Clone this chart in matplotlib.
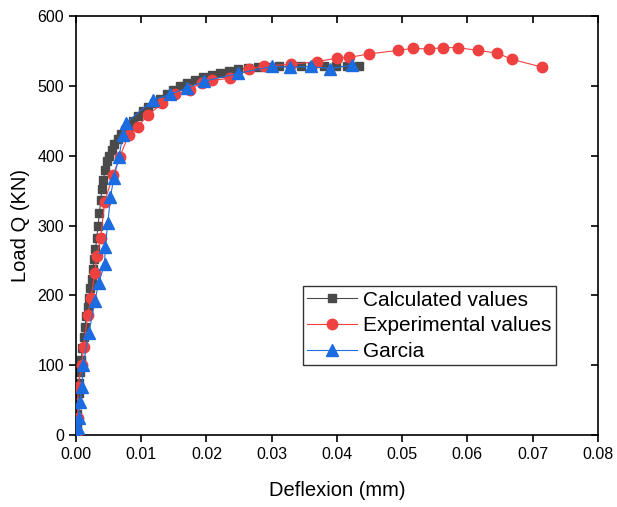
import numpy as np
import matplotlib
matplotlib.use("Agg")
import matplotlib.pyplot as plt

plt.rcParams['font.family'] = ['Liberation Sans', 'DejaVu Sans']

# Calculated values (dense curve)
calc_x = [0, 0.0001, 0.0002, 0.0003, 0.0004, 0.0005, 0.0006, 0.0008, 0.001, 0.0012,
          0.0014, 0.0016, 0.0018, 0.002, 0.0022, 0.0024, 0.0026, 0.0028, 0.003, 0.0032,
          0.0034, 0.0036, 0.0038, 0.004, 0.0042, 0.0045, 0.0048, 0.0051, 0.0055, 0.0059,
          0.0064, 0.0069, 0.0075, 0.0081, 0.0088, 0.0095, 0.0103, 0.0111, 0.012, 0.0129,
          0.0139, 0.0149, 0.016, 0.0171, 0.0183, 0.0195, 0.0208, 0.0221, 0.0235, 0.0249,
          0.0264, 0.0279, 0.0295, 0.0311, 0.0328, 0.0345, 0.0362, 0.038, 0.0398, 0.0416,
          0.0434]
calc_y = [0, 15, 30, 45, 60, 75, 90, 108, 124, 140,
          155, 170, 184, 196, 210, 224, 238, 252, 266, 282,
          300, 318, 336, 352, 366, 380, 392, 400, 409, 417,
          424, 431, 437, 443, 450, 457, 464, 470, 476, 482,
          488, 494, 500, 505, 509, 513, 516, 519, 522, 524,
          526, 527, 527, 528, 528, 528, 528, 528, 528, 528,
          528]

# Experimental values
exp_x = [0, 0.0003, 0.0003, 0.0009, 0.0012, 0.0018, 0.0023, 0.0029, 0.0032, 0.0038,
         0.0044, 0.0057, 0.0067, 0.0081, 0.0095, 0.011, 0.0132, 0.0152, 0.0175, 0.0193,
         0.0208, 0.0236, 0.0266, 0.0289, 0.033, 0.037, 0.04, 0.0419, 0.0449, 0.0493,
         0.0516, 0.0541, 0.0562, 0.0585, 0.0617, 0.0646, 0.0669, 0.0715]
exp_y = [0, 24, 69, 100, 126, 172, 196, 232, 256, 282,
         334, 372, 398, 430, 442, 458, 475, 488, 495, 505,
         508, 511, 524, 529, 531, 535, 540, 541, 546, 551,
         554, 553, 555, 555, 551, 547, 538, 527]

# Garcia
gar_x = [0, 0.0003, 0.0004, 0.0006, 0.0009, 0.0011, 0.002, 0.0029, 0.0035, 0.0044,
         0.0045, 0.0049, 0.0053, 0.0058, 0.0066, 0.0072, 0.0077, 0.0118, 0.0144, 0.017,
         0.0197, 0.0248, 0.03, 0.0328, 0.0361, 0.0389, 0.0423]
gar_y = [0, 10, 24, 47, 69, 100, 146, 192, 218, 245,
         270, 304, 341, 368, 398, 430, 447, 480, 488, 497,
         507, 518, 528, 527, 528, 525, 530]

fig = plt.figure(figsize=(6.17, 5.07), dpi=100)
ax = fig.add_axes([0.123, 0.142, 0.846, 0.826])

ax.plot(calc_x, calc_y, color='#4a4a4a', lw=0.8, marker='s', ms=6,
        mfc='#4a4a4a', mec='#4a4a4a', label='Calculated values', zorder=2)
ax.plot(exp_x, exp_y, color='#f04141', lw=0.8, marker='o', ms=7.5,
        mfc='#f04141', mec='#f04141', label='Experimental values', zorder=3)
ax.plot(gar_x, gar_y, color='#1f6fe0', lw=0.8, marker='^', ms=8,
        mfc='#1a6ce0', mec='#1a6ce0', label='Garcia', zorder=4)

ax.set_xlim(0, 0.08)
ax.set_ylim(0, 600)
ax.set_xticks(np.arange(0, 0.081, 0.01))
ax.set_yticks(np.arange(0, 601, 100))
ax.set_xticklabels(['%.2f' % v for v in np.arange(0, 0.081, 0.01)])

ax.tick_params(axis='both', which='major', direction='out', length=5, width=1.2,
               labelsize=11.5)
ax.tick_params(top=True, right=True)
for t in ax.xaxis.get_major_ticks():
    t.tick2line.set_marker(3)
for t in ax.yaxis.get_major_ticks():
    t.tick2line.set_marker(0)
for s in ax.spines.values():
    s.set_linewidth(1.2)

ax.set_xlabel('Deflexion (mm)', fontsize=14.5, labelpad=14)
ax.set_ylabel('Load Q (KN)', fontsize=14.5, labelpad=5)

leg = ax.legend(loc='lower left', bbox_to_anchor=(0.435, 0.167), fontsize=15,
                frameon=True, fancybox=False, edgecolor='black', borderpad=0.2,
                labelspacing=0.32, handlelength=2.4, handletextpad=0.3,
                borderaxespad=0)
leg.get_frame().set_linewidth(1.0)

fig.savefig('out.png', dpi=100)
